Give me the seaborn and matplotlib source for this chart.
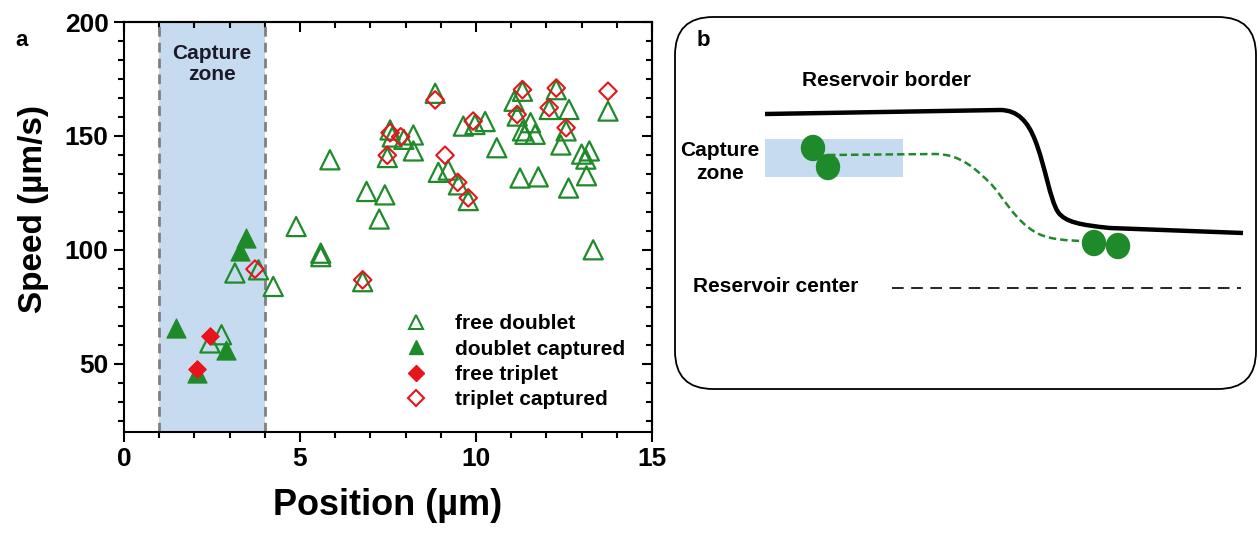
import numpy as np
import pandas as pd
import matplotlib
matplotlib.use("Agg")
import matplotlib.pyplot as plt
import seaborn as sns
from matplotlib.ticker import MultipleLocator
from matplotlib.patches import FancyBboxPatch, Rectangle, Ellipse, PathPatch
from matplotlib.path import Path
from matplotlib.lines import Line2D

sns.set_theme(style="white")
plt.rcParams['font.family'] = ['Liberation Sans', 'DejaVu Sans']
plt.rcParams['font.weight'] = 'bold'
plt.rcParams['axes.labelweight'] = 'bold'
plt.rcParams['text.color'] = 'black'
plt.rcParams['axes.labelcolor'] = 'black'
plt.rcParams['xtick.color'] = 'black'
plt.rcParams['ytick.color'] = 'black'

# ---------------- data (panel a) ----------------
free_doublet_x = [3.15, 3.82, 4.24, 2.77, 2.44, 4.89, 5.59, 5.59, 5.85, 6.78, 6.89, 7.25, 7.41,
                  7.48, 7.56, 7.62, 7.95, 8.22, 8.22, 8.84, 8.93, 9.21, 9.50, 9.78, 9.64, 9.97,
                  10.26, 10.59, 11.08, 11.32, 11.17, 11.55, 11.32, 11.39, 11.68, 11.25, 11.77,
                  12.28, 12.08, 12.64, 12.56, 12.41, 12.63, 13.00, 13.22, 13.12, 13.14, 13.33, 13.75]
free_doublet_y = [89.8, 91.2, 83.9, 62.7, 59.1, 110.2, 98.5, 97.0, 139.5, 86.0, 125.6, 113.5, 124.1,
                  140.5, 152.6, 149.5, 148.5, 150.4, 143.4, 168.7, 134.0, 135.0, 128.5, 121.6, 154.3, 155.0,
                  156.3, 144.8, 165.2, 169.6, 158.7, 155.8, 152.2, 150.7, 150.7, 131.5, 132.0,
                  170.3, 161.6, 161.6, 152.2, 146.0, 127.1, 142.0, 143.4, 139.8, 132.5, 100.0, 160.9]

doublet_captured_x = [3.48, 3.30, 1.48, 2.90, 2.08]
doublet_captured_y = [105.1, 99.3, 65.6, 55.8, 45.9]

free_triplet_x = [2.44, 2.08]
free_triplet_y = [62.0, 47.8]

triplet_captured_x = [3.72, 6.78, 7.48, 7.56, 7.86, 8.84, 9.12, 9.48, 9.78, 9.92, 11.32, 12.28,
                      12.08, 11.17, 12.56, 13.75]
triplet_captured_y = [91.5, 86.8, 141.5, 151.4, 149.6, 165.8, 141.5, 129.6, 122.8, 156.5, 170.3, 171.0,
                      162.4, 159.4, 153.6, 169.6]

capture_zone = [1, 4]
legend_labels = ["free doublet", "doublet captured", "free triplet", "triplet captured"]

GREEN = "#1f8a2a"
RED = "#e8141c"
BLUE = "#c6dbef"

W, H = 1258, 535
fig = plt.figure(figsize=(W / 100, H / 100), dpi=100)
ax = fig.add_axes([124 / W, 1 - 432 / H, (652 - 124) / W, (432 - 22) / H])

ax.axvspan(capture_zone[0], capture_zone[1], color=BLUE, lw=0, zorder=0)
for xv in capture_zone:
    ax.axvline(xv, color="#808080", lw=2.0, ls=(0, (3.5, 2.2)), zorder=1)
ax.text(np.mean(capture_zone), 181.5, "Capture\nzone", ha="center", va="center",
        fontsize=15, fontweight="bold", linespacing=1.15, color="#1a1a2a")

df_fd = pd.DataFrame({"x": free_doublet_x, "y": free_doublet_y})
df_dc = pd.DataFrame({"x": doublet_captured_x, "y": doublet_captured_y})
df_ft = pd.DataFrame({"x": free_triplet_x, "y": free_triplet_y})
df_tc = pd.DataFrame({"x": triplet_captured_x, "y": triplet_captured_y})

sns.scatterplot(data=df_fd, x="x", y="y", marker="^", s=190, facecolors="none",
                edgecolor=GREEN, linewidth=1.6, ax=ax, zorder=3)
sns.scatterplot(data=df_dc, x="x", y="y", marker="^", s=190, color=GREEN,
                edgecolor=GREEN, linewidth=0.8, ax=ax, zorder=3)
sns.scatterplot(data=df_ft, x="x", y="y", marker="D", s=80, color=RED,
                edgecolor=RED, linewidth=0.8, ax=ax, zorder=4)
sns.scatterplot(data=df_tc, x="x", y="y", marker="D", s=80, facecolors="none",
                edgecolor=RED, linewidth=1.5, ax=ax, zorder=4)

ax.set_xlim(0, 15)
ax.set_ylim(20, 200)
ax.xaxis.set_major_locator(MultipleLocator(5))
ax.xaxis.set_minor_locator(MultipleLocator(1))
ax.yaxis.set_major_locator(MultipleLocator(50))
ax.yaxis.set_minor_locator(MultipleLocator(50 / 6))
ax.tick_params(which="both", direction="out", width=1.5, color="black",
               bottom=True, left=True, top=False, right=False)
ax.tick_params(which="major", length=7, labelsize=19, pad=4)
ax.tick_params(which="minor", length=4)
for lab in ax.get_xticklabels() + ax.get_yticklabels():
    lab.set_fontweight("bold")
for sp in ax.spines.values():
    sp.set_visible(True)
    sp.set_color("black")
    sp.set_linewidth(1.5)

secx = ax.secondary_xaxis("top")
secx.xaxis.set_major_locator(MultipleLocator(5))
secx.xaxis.set_minor_locator(MultipleLocator(1))
secx.tick_params(which="both", direction="in", width=1.5, labeltop=False)
secx.tick_params(which="major", length=7)
secx.tick_params(which="minor", length=4)
secy = ax.secondary_yaxis("right")
secy.yaxis.set_major_locator(MultipleLocator(50))
secy.yaxis.set_minor_locator(MultipleLocator(50 / 6))
secy.tick_params(which="both", direction="in", width=1.5, labelright=False)
secy.tick_params(which="major", length=7)
secy.tick_params(which="minor", length=4)
for s in (secx, secy):
    for sp in s.spines.values():
        sp.set_linewidth(1.5)

ax.set_xlabel("Position (µm)", fontsize=26, fontweight="bold", labelpad=12)
ax.set_ylabel("Speed (µm/s)", fontsize=24, fontweight="bold")
ax.yaxis.set_label_coords(-0.142, 0.545)

handles = [
    Line2D([], [], ls="none", marker="^", ms=10, mfc="none", mec=GREEN, mew=1.5),
    Line2D([], [], ls="none", marker="^", ms=10, mfc=GREEN, mec=GREEN),
    Line2D([], [], ls="none", marker="D", ms=8, mfc=RED, mec=RED),
    Line2D([], [], ls="none", marker="D", ms=8, mfc="none", mec=RED, mew=1.5),
]
ax.legend(handles, legend_labels, loc="upper left", bbox_to_anchor=(0.505, 0.307),
          frameon=False, fontsize=15, handletextpad=1.1, labelspacing=0.3,
          handlelength=1.6, borderaxespad=0)

fig.text(15 / W, 1 - 40 / H, "a", fontsize=16, fontweight="bold", va="center", ha="left")

# ---------------- panel b (schematic) ----------------
border_pts = [(765, 114), (1000, 110), (1018, 110), (1028, 122), (1035, 140),
              (1045, 165), (1050, 200), (1058, 212), (1065, 222), (1080, 225),
              (1110, 228), (1243, 233)]
border_codes = [Path.MOVETO, Path.LINETO, Path.CURVE4, Path.CURVE4, Path.CURVE4,
                Path.CURVE4, Path.CURVE4, Path.CURVE4, Path.CURVE4, Path.CURVE4,
                Path.CURVE4, Path.LINETO]
track_pts = [(828, 155), (935, 154), (960, 154), (975, 168), (992, 185),
             (1005, 200), (1015, 220), (1035, 232), (1045, 238), (1060, 241), (1090, 241)]
track_codes = [Path.MOVETO, Path.LINETO, Path.CURVE4, Path.CURVE4, Path.CURVE4,
               Path.CURVE4, Path.CURVE4, Path.CURVE4, Path.CURVE4, Path.CURVE4, Path.CURVE4]
particles = [(813, 148), (828, 167), (1094, 243), (1118, 246)]

axb = fig.add_axes([670 / W, (H - 395) / H, 588 / W, 385 / H])
axb.set_xlim(670, 1258)
axb.set_ylim(395, 10)
axb.axis("off")

box = FancyBboxPatch((675, 17), 581, 372, boxstyle="round,pad=0,rounding_size=38",
                     fc="white", ec="black", lw=1.3, clip_on=False, zorder=0)
axb.add_patch(box)
axb.add_patch(Rectangle((765, 139), 138, 38, color=BLUE, lw=0, zorder=1))
axb.add_patch(PathPatch(Path(border_pts, border_codes), fill=False, ec="black",
                        lw=3.2, capstyle="butt", zorder=2))
axb.add_patch(PathPatch(Path(track_pts, track_codes), fill=False, ec=GREEN,
                        lw=1.8, ls=(0, (3, 1.6)), zorder=2))
for (cx, cy) in particles:
    axb.add_patch(Ellipse((cx, cy), 23, 25, color=GREEN, zorder=3))
axb.plot([892, 1241], [288, 288], color="black", lw=1.2, dashes=(7, 4.5))

axb.text(703, 40, "b", fontsize=16, fontweight="bold", va="center", ha="center")
axb.text(887, 81, "Reservoir border", fontsize=15, fontweight="bold", va="center", ha="center")
axb.text(720, 162, "Capture\nzone", fontsize=15, fontweight="bold", va="center", ha="center",
         linespacing=1.25)
axb.text(776, 286, "Reservoir center", fontsize=15, fontweight="bold", va="center", ha="center")

fig.savefig("out.png", dpi=100)
